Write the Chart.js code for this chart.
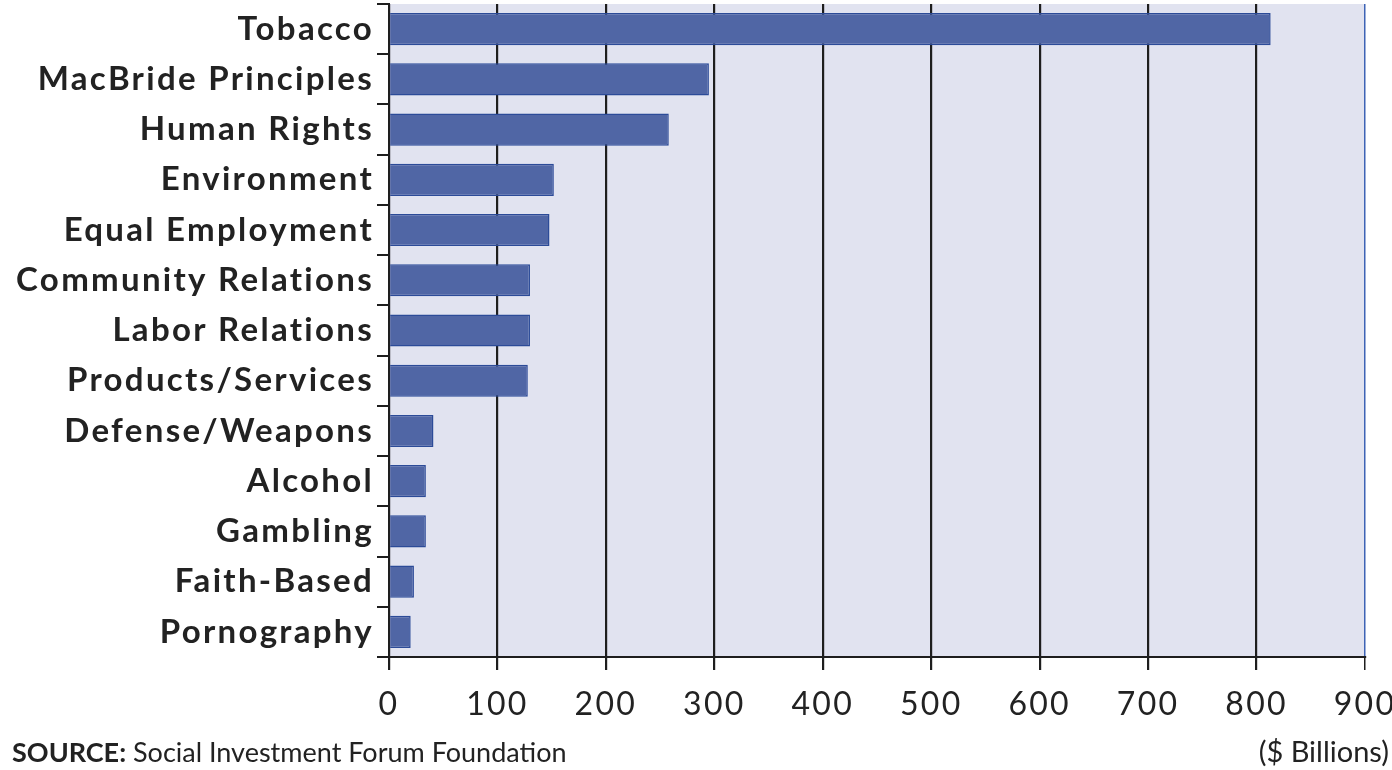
<!DOCTYPE html>
<html>
<head>
<meta charset="utf-8">
<script src="https://cdn.jsdelivr.net/npm/chart.js@4/dist/chart.umd.min.js"></script>
<style>
  html, body { margin: 0; padding: 0; background: #fff; }
  #wrap { position: relative; width: 1392px; height: 770px; }
  .note { position: absolute; font-family: Lato, sans-serif; font-size: 27px; color: #222; top: 735px; }
  #source { left: 12px; }
  #units { right: 3px; font-size: 29px; top: 733px; }
</style>
</head>
<body>
<div id="wrap">
  <canvas id="barChart" width="1392" height="770"></canvas>
  <div class="note" id="source"><b>SOURCE:</b> Social Investment Forum Foundation</div>
  <div class="note" id="units">($ Billions)</div>
</div>
<script>
const categories = ['Tobacco', 'MacBride Principles', 'Human Rights', 'Environment', 'Equal Employment',
  'Community Relations', 'Labor Relations', 'Products/Services', 'Defense/Weapons', 'Alcohol',
  'Gambling', 'Faith-Based', 'Pornography'];
const assets = [813, 295, 258, 152, 148, 130, 130, 128, 41, 34, 34, 23, 20];
const xTicks = [0, 100, 200, 300, 400, 500, 600, 700, 800, 900];

// light lavender plot background, plus wider letter spacing for axis text
const plotBg = {
  id: 'plotBg',
  beforeDraw(chart) {
    const { ctx, chartArea: a } = chart;
    ctx.save();
    ctx.fillStyle = '#e1e3f0';
    ctx.fillRect(a.left, a.top, a.right - a.left, a.bottom - a.top);
    ctx.restore();
    ctx.letterSpacing = '2.3px';
  }
};

const ctx = document.getElementById('barChart').getContext('2d');
new Chart(ctx, {
  type: 'bar',
  data: {
    labels: categories,
    datasets: [{
      data: assets,
      backgroundColor: '#5066a5',
      borderColor: '#2c4b98',
      borderWidth: 1.5,
      categoryPercentage: 1,
      barPercentage: 0.64
    }]
  },
  options: {
    indexAxis: 'y',
    responsive: false,
    animation: false,
    layout: { padding: { top: 4, right: 27, left: 0, bottom: 0 } },
    plugins: {
      legend: { display: false },
      tooltip: { enabled: false }
    },
    scales: {
      x: {
        min: 0,
        max: 900,
        afterBuildTicks: (scale) => { scale.ticks = xTicks.map(v => ({ value: v })); },
        afterFit: (scale) => {
          scale.height = 113;
          scale.paddingLeft = 0;
          scale.paddingRight = 0;
        },
        grid: {
          color: (c) => c.tick && c.tick.value === 900 ? '#3d63b5' : '#1e1e1e',
          lineWidth: (c) => c.tick && c.tick.value === 900 ? 1.5 : 2.2,
          tickLength: 13,
          tickColor: '#1e1e1e'
        },
        border: { color: '#1e1e1e', width: 2 },
        ticks: {
          color: '#222',
          padding: 15,
          font: { family: 'Lato', size: 32 }
        }
      },
      y: {
        afterFit: (scale) => {
          scale.width = 389;
          scale.paddingTop = 0;
          scale.paddingBottom = 0;
        },
        grid: {
          offset: true,
          drawOnChartArea: false,
          tickLength: 12,
          tickColor: '#1e1e1e',
          lineWidth: 2
        },
        border: { color: '#1e1e1e', width: 2 },
        ticks: {
          color: '#222',
          padding: 3,
          font: { family: 'Lato', size: 33, weight: 'bold' }
        }
      }
    }
  },
  plugins: [plotBg]
});
</script>
</body>
</html>
